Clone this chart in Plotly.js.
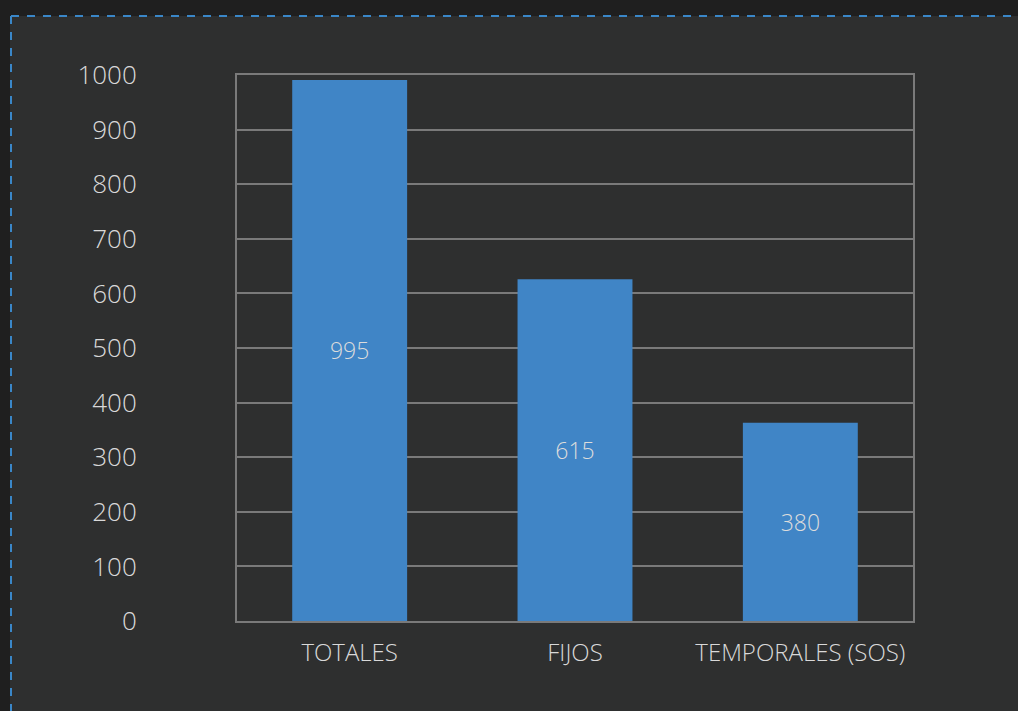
<!DOCTYPE html>
<html>
<head>
<meta charset="utf-8">
<script src="https://cdn.plot.ly/plotly-3.0.1.min.js"></script>
<style>
  html, body { margin: 0; padding: 0; width: 1018px; height: 711px; overflow: hidden; background: #1f1f1f; }
  #panel { position: absolute; left: 10px; top: 16px; width: 1008px; height: 695px; background: #2e2f2f; }
  #frame { position: absolute; left: 0; top: 0; width: 1018px; height: 711px; pointer-events: none; }
  #chart { position: absolute; left: 0; top: 0; width: 1018px; height: 711px; }
</style>
</head>
<body>
<div id="panel"></div>
<svg id="frame" width="1018" height="711">
  <line x1="11" y1="16" x2="1018" y2="16" stroke="#3a87c8" stroke-width="2" stroke-dasharray="8 8"/>
  <line x1="11" y1="16" x2="11" y2="711" stroke="#3a87c8" stroke-width="2" stroke-dasharray="8 8"/>
</svg>
<div id="chart"></div>
<script>
const categories = ["TOTALES", "FIJOS", "TEMPORALES (SOS)"];
const barValues = [991, 626, 363];
const barLabels = ["995", "615", "380"];
const yTickValues = [0, 100, 200, 300, 400, 500, 600, 700, 800, 900, 1000];

const fontFamily = "'Open Sans', Lato, sans-serif";

Plotly.newPlot("chart", [{
  type: "bar",
  x: categories,
  y: barValues,
  text: barLabels,
  textposition: "inside",
  insidetextanchor: "middle",
  textfont: { family: fontFamily, size: 23, weight: 300, color: "#dcdcdc" },
  marker: { color: "#4085c6" },
  hoverinfo: "none"
}], {
  width: 1018,
  height: 711,
  margin: { l: 237, r: 105, t: 75, b: 90 },
  paper_bgcolor: "rgba(0,0,0,0)",
  plot_bgcolor: "rgba(0,0,0,0)",
  bargap: 0.49,
  showlegend: false,
  font: { family: fontFamily, color: "#d9d9d9" },
  xaxis: {
    showline: true, mirror: true, linecolor: "#7a7a7a", linewidth: 2,
    showgrid: false, ticks: "",
    tickfont: { family: fontFamily, size: 24, weight: 300, color: "#d9d9d9" },
    ticklabelstandoff: 9
  },
  yaxis: {
    range: [0, 1000],
    tickvals: yTickValues,
    showline: true, mirror: true, linecolor: "#7a7a7a", linewidth: 2,
    showgrid: true, gridcolor: "#7a7a7a", gridwidth: 2,
    zeroline: false, ticks: "",
    tickfont: { family: fontFamily, size: 26, weight: 300, color: "#d9d9d9" },
    ticklabelstandoff: 93
  }
}, { staticPlot: true, displayModeBar: false });
</script>
</body>
</html>
